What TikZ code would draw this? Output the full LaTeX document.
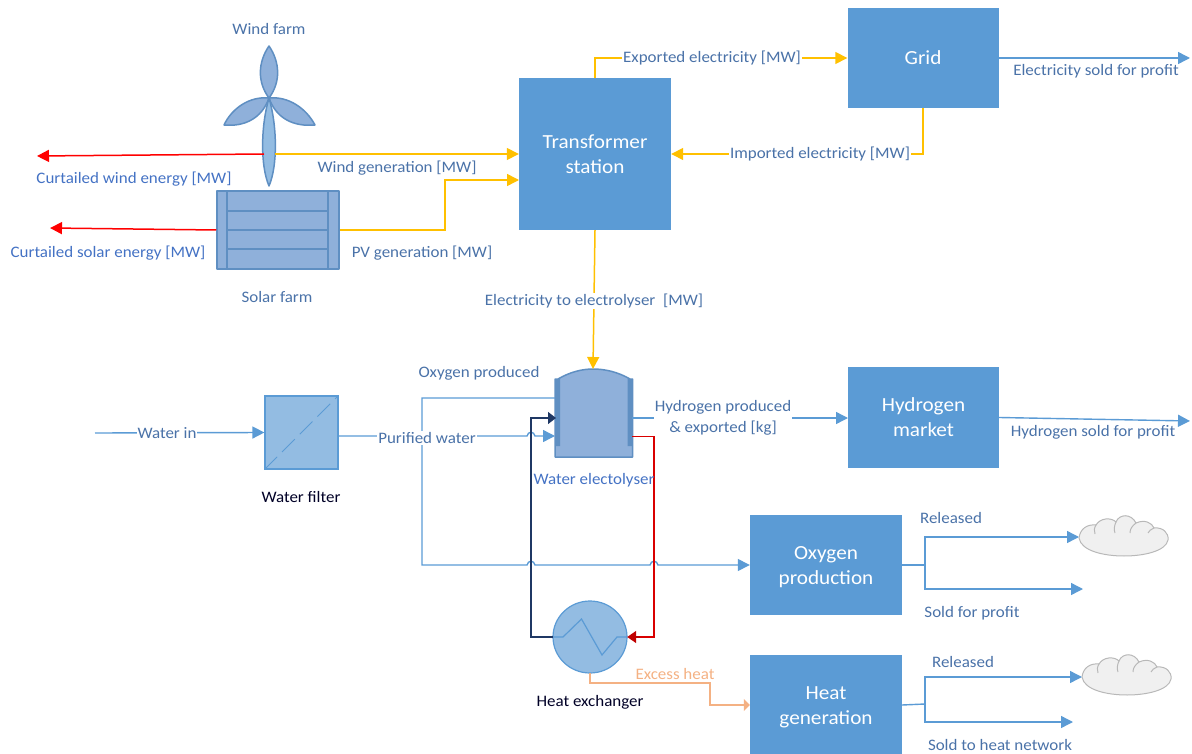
\documentclass[tikz,border=0pt]{standalone}
\usepackage{fontspec}
\setmainfont[FakeStretch=1.06]{Carlito}
\usetikzlibrary{arrows.meta,calc}
\definecolor{boxblue}{HTML}{5B9BD5}
\definecolor{equip}{HTML}{8FB0DA}
\definecolor{equipline}{HTML}{5F8FC2}
\definecolor{lightequip}{HTML}{93BCE2}
\definecolor{flowblue}{HTML}{5B9BD5}
\definecolor{labelblue}{HTML}{4A72A8}
\definecolor{curtail}{HTML}{4472C4}
\definecolor{elec}{HTML}{FFC000}
\definecolor{navy}{HTML}{1F3864}
\definecolor{darkred}{HTML}{C00000}
\definecolor{heat}{HTML}{F4B183}
\tikzset{
  x=1pt,y=-1pt,
  proc/.style={draw=none,fill=boxblue,text=white,font=\fontsize{20}{25}\selectfont,align=center,inner sep=0pt},
  proctext/.style={text=white,font=\fontsize{20}{25}\selectfont,align=center,inner sep=0pt},
  lab/.style={text=labelblue,font=\fontsize{16}{21}\selectfont,align=center,inner sep=1pt},
  onwire/.style={lab,fill=white},
  blacklab/.style={lab,text=black!85!blue},
  tip/.style={-{Triangle[length=12pt,width=12pt]}},
  flow/.style={draw=flowblue,line width=1.4pt,tip},
  plainflow/.style={draw=flowblue,line width=1.4pt},
  elecflow/.style={draw=elec,line width=1.5pt,tip},
  redflow/.style={draw=red,line width=1.5pt,tip},
  shape1/.style={fill=equip,draw=equipline,line width=1.5pt,line join=round},
  cloudpuff/.pic={
    \draw[fill=black!6,draw=black!28,line width=1pt]
      (0,23) .. controls (1,14) and (8,9) .. (17,10)
      .. controls (21,3) and (32,2) .. (37,7)
      .. controls (40,-1) and (52,-2) .. (57,8)
      .. controls (66,4) and (73,8) .. (75,13)
      .. controls (84,12) and (90,18) .. (89,25)
      .. controls (87,36) and (65,41) .. (45,41)
      .. controls (25,41) and (2,36) .. (0,23) -- cycle;
    \draw[draw=black!28,line width=1pt]
      (17,10) .. controls (15,13) and (15,16) .. (16,19)
      (37,7) .. controls (35,11) and (35,15) .. (36,18)
      (57,8) .. controls (53,11) and (51,14) .. (51,18)
      (75,13) .. controls (72,14) and (70,16) .. (69,18);
  }
}
\begin{document}
\begin{tikzpicture}
\useasboundingbox (0,0) rectangle (1192,754);
% process boxes
\node[proc,minimum width=152pt,minimum height=152pt] (trans) at (595,154) {Transformer\\station};
\node[proc,minimum width=151pt,minimum height=100pt] (grid) at (923,58) {Grid};
\node[proc,minimum width=151pt,minimum height=101pt] (hmarket) at (923.5,417.5) {Hydrogen\\market};
\node[proc,minimum width=152pt,minimum height=100pt] (oxy) at (826,565) {};
\node[proctext] (oxytext) at (826,567) {Oxygen\\production};
\node[proc,minimum width=152pt,minimum height=100pt] (heatgen) at (826,705) {};
\node[proctext] (heattext) at (826,707) {Heat\\generation};
% wind turbine
\draw[shape1] (269,98) .. controls (250,96) and (232,108) .. (224,125) .. controls (245,127) and (262,118) .. (269,98) -- cycle;
\draw[shape1] (269,98) .. controls (288,96) and (306,108) .. (315,125) .. controls (293,127) and (276,118) .. (269,98) -- cycle;
\draw[shape1] (269,98) .. controls (257,82) and (258,62) .. (269,46) .. controls (280,62) and (281,82) .. (269,98) -- cycle;
\draw[shape1,fill=lightequip] (269,98) .. controls (261,125) and (260,165) .. (269,186) .. controls (278,165) and (277,125) .. (269,98) -- cycle;
% solar panel
\node[shape1,inner sep=0pt,minimum width=122pt,minimum height=78pt] (solar) at (278,230) {};
\draw[draw=equipline,line width=1.5pt] (227,191) -- (227,269) (328,191) -- (328,269)
  (227,211) -- (328,211) (227,230) -- (328,230) (227,249) -- (328,249);
% water filter
\node[fill=lightequip,draw=flowblue,line width=1.2pt,inner sep=0pt,minimum width=73pt,minimum height=73pt] (filter) at (301.5,432.5) {};
\draw[draw=flowblue,line width=1pt,dash pattern=on 18pt off 7pt] (filter.south west) -- (filter.north east);
% electrolyser
\coordinate (elecN) at (593,369);
\draw[shape1,line width=1.5pt] (555,379) -- (558,379) .. controls (570,372) and (582,369) .. (593,369)
  .. controls (605,369) and (618,372) .. (630,379) -- (632.5,379) -- (632.5,457) -- (555,457) -- cycle;
\fill[equipline] (555,379) rectangle (560,446) (627.5,379) rectangle (632.5,446);
% heat exchanger
\draw[draw=flowblue,fill=lightequip,line width=1.2pt] (590,637) ellipse [x radius=37,y radius=36];
\node[inner sep=0pt,minimum width=74pt,minimum height=72pt] (hx) at (590,637) {};
\draw[draw=flowblue,line width=1.2pt] (hx.west) -- (563,637) -- (581.5,619) -- (602,655) -- (617,637) -- (hx.east);
% clouds
\pic at (1079,515) {cloudpuff};
\pic at (1082,654) {cloudpuff};
% free ends
\coordinate (gridout) at (1190,58);
\coordinate (hout) at (1190,421);
\coordinate (wcurt) at (37,156);
\coordinate (scurt) at (50,228);
\coordinate (waterin) at (95,433);
\coordinate (oxbr) at (925,565);
\coordinate (hbr) at (925,704);
\coordinate (oxrel) at (1079,537);
\coordinate (oxsold) at (1083,589);
\coordinate (hrel) at (1082,677);
\coordinate (hsold) at (1073,722);
% electricity
\draw[redflow] (264,154) -- (wcurt);
\draw[redflow] (solar.west) -- (scurt);
\draw[elecflow] (275,154) -- (trans.west);
\draw[elecflow] (solar.east) -- (445,230) -- (445,180) -- (519,180);
\draw[elecflow] (trans.north) |- (grid.west);
\draw[elecflow] (grid.south) |- (trans.east);
\draw[elecflow] (trans.south) -- (elecN);
\draw[flow] (grid.east) -- (gridout);
\draw[flow] (hmarket.east) -- (hout);
% water
\draw[flow] (waterin) -- (filter.west);
\draw[flow] (338,436) -- (527,436) .. controls (528,431) and (534,431) .. (535,436) -- (555,436);
\draw[flow] (555,398) -- (422,398) -- (422,565) -- (527,565) .. controls (528,560) and (534,560) .. (535,565)
  -- (650,565) .. controls (651,560) and (657,560) .. (658,565) -- (oxy.west);
\draw[flow] (632,418) -- (848,418);
% cooling loop
\draw[draw=navy,line width=1.4pt,-{Triangle[length=8pt,width=12pt]}] (hx.west) -- (531,637) -- (531,418) -- (556,418);
\draw[draw=red!85!black,line width=1.4pt] (632,436.5) -- (654,436.5) -- (654,637) -- (637,637);
\draw[draw=darkred,line width=1.4pt,-{Triangle[length=9pt,width=12pt]}] (640,637) -- (hx.east);
% excess heat
\draw[draw=heat,line width=1.5pt,-{Triangle[length=6pt,width=12pt]}] (590,673) -- (590,683) -- (710,683) -- (710,705) -- (heatgen.west);
% outputs
\draw[plainflow] (oxy.east) -- (oxbr);
\draw[flow] (oxbr) |- (oxrel);
\draw[flow] (oxbr) |- (oxsold);
\draw[plainflow] (heatgen.east) -- (hbr);
\draw[flow] (hbr) |- (hrel);
\draw[flow] (hbr) |- (hsold);
% labels
\node[lab] (lwind) at (269,29) {Wind farm};
\node[lab] (lsolar) at (277,297) {Solar farm};
\node[lab,text=curtail] (lcw) at (134,179) {Curtailed wind energy [MW]};
\node[lab,text=curtail] (lcs) at (108,253) {Curtailed solar energy [MW]};
\node[lab] (lwg) at (397,168) {Wind generation [MW]};
\node[lab] (lpv) at (422,253) {PV generation [MW]};
\node[onwire] (lexp) at (712,58) {Exported electricity [MW]};
\node[onwire] (limp) at (820,154) {Imported electricity [MW]};
\node[lab] (lsold) at (1096,71) {Electricity sold for profit};
\node[onwire] (lely) at (594,301) {Electricity to electrolyser\ \ [MW]};
\node[onwire] (lwi) at (167,433) {Water in};
\node[onwire] (lpw) at (427,438) {Purified water};
\node[blacklab] (lfilter) at (301,497) {Water filter};
\node[lab] (lox) at (479,373) {Oxygen produced};
\node[onwire] (lhp) at (723,418) {Hydrogen produced\\\& exported [kg]};
\node[lab] (lhs) at (1093,432) {Hydrogen sold for profit};
\node[lab,text=curtail] (lwe) at (594,480) {Water electolyser};
\node[lab] (lrel1) at (951,518) {Released};
\node[lab] (lsp) at (972,613) {Sold for profit};
\node[lab] (lrel2) at (963,662) {Released};
\node[lab] (lsh) at (1000,745) {Sold to heat network};
\node[lab,text=heat] (lex) at (675,674) {Excess heat};
\node[blacklab] (lhx) at (590,702) {Heat exchanger};
\end{tikzpicture}
\end{document}
